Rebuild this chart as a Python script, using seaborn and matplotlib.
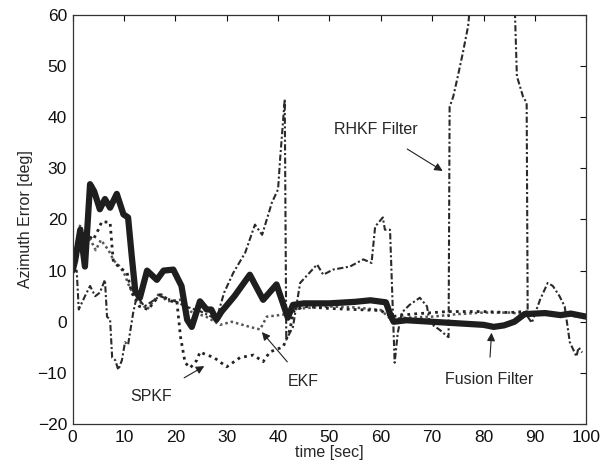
import numpy as np
import pandas as pd
import seaborn as sns
import matplotlib
matplotlib.use("Agg")
import matplotlib.pyplot as plt

# ---------------- data ----------------
fusion_t = [0, 0.5, 1.5, 2.4, 3.4, 4.2, 5.3, 6.3, 7.3, 8.6, 9.9, 10.8, 11.5, 12.2, 13.1,
            14.5, 16.4, 17.7, 19.6, 21.2, 22.3, 23.2, 24.8, 26.1, 27, 28, 29, 31.5, 34.5,
            37.1, 39.7, 41.9, 42.9, 45, 50, 55, 58, 61, 62, 62.5, 65, 70, 75, 80, 82, 84,
            86, 88, 92, 95, 97, 100]
fusion_v = [10, 12, 18, 10.8, 26.9, 25.5, 22, 24, 22.3, 25, 21, 20.4, 13, 6, 4.7,
            10, 8.2, 10, 10.2, 7, 0.4, -1, 4, 2.4, 2.4, 0.4, 2, 5, 9.2,
            4.3, 7.3, 0.8, 3.3, 3.6, 3.6, 3.9, 4.2, 3.8, 1, 0, 0.3, 0, -0.3, -0.6, -1, -0.7,
            0, 1.5, 1.7, 1.3, 1.6, 1]

ekf_t = [0, 1, 1.5, 2.5, 3.5, 4.5, 5.5, 7, 8, 9, 10, 11, 12, 13, 14.5, 17, 18.3, 21, 23,
         26, 28.7, 31, 34.5, 36.5, 37.8, 41, 43, 50, 55, 60, 62, 65, 70, 75, 80, 85, 88,
         92, 96, 100]
ekf_v = [10, 17, 19, 16, 16, 14, 16, 14, 12, 11, 9.6, 7, 5, 4, 2.4, 5.7, 4, 4.3, 2,
         1, -0.6, 0, -1, -1.5, 1, 1.4, 2.5, 3, 2.8, 2.3, 0.5, 0.8, 1, 1.5, 1.8, 1.8, 1.5,
         1.4, 1.2, 1]

spkf_t = [0, 1, 2, 3, 4, 5, 5.7, 7.3, 7.9, 8.9, 10.6, 11.5, 13, 14.7, 17, 19.3, 20.3, 21,
          21.9, 22.9, 24.2, 24.8, 26.1, 27.4, 30, 32.6, 35.2, 37.1, 38.4, 41, 42.3, 43,
          45, 50, 55, 60, 62, 66, 73, 76, 80, 85, 88, 92, 96, 100]
spkf_v = [10, 13, 15, 17, 16, 18, 19.6, 19.4, 12, 10.8, 9.6, 5.7, 3, 2.4, 5.3, 4, 4, -2.9,
          -8, -9, -7.5, -5.9, -6.5, -6.9, -8.8, -7, -6.5, -7.8, -5.9, -4.9, -1.6, 2,
          3, 2.6, 2.4, 2.2, 1, 1.5, 2, 2, 2, 1.8, 2, 1.5, 1.4, 1.2]

rhkf_t = [0, 0.8, 1.2, 2.4, 3.4, 4.4, 5.3, 6.3, 6.7, 7.3, 7.7, 8.3, 8.9, 9.6, 10.2, 10.8,
          11.8, 12.5, 14, 17, 20, 22, 25, 28, 29.5, 31.3, 33.6, 35.5, 36.9, 38.8, 40,
          40.4, 41.3, 41.6, 42.9, 44.3, 47.6, 48.8, 50.7, 54, 56.6, 58.2, 58.9, 60.4, 60.8,
          61.8, 62.7, 63.3, 64.1, 65.6, 67.6, 69, 69.5, 71.5, 73, 73.2, 73.4, 74.1, 75, 76,
          77, 77.3, 80, 84, 86.1, 86.5, 87.7, 88.4, 88.6, 89.4, 91, 92.5, 93.5, 94.8, 95.8,
          96.8, 98.1, 98.5, 99.2]
rhkf_v = [10, 10, 2.4, 5, 7, 5, 5.7, 8.2, 1, 0.4, -7, -7.5, -9.4, -7.5, -4, -4.5,
          1.8, 5, 3, 5, 4, 3, 2, 0.5, 5.7, 9.6, 13.5, 19, 17, 23.3, 25.9,
          31.8, 43.5, -3.5, -1, 7.6, 11.2, 9.2, 10.2, 10.8, 12.2, 11.5, 18.6, 20.4, 18,
          18, -8, -2.2, 1.8, 3.3, 4.7, 3, -0.2, -1.6, -2.9, -3, 42, 44, 48, 52.7,
          57.8, 61, 68, 68, 61, 48, 44, 42.8, 1, -0.2, 4.3, 7.6, 7, 5, 3,
          -4, -6.8, -5, -6]

x_ticks = list(range(0, 101, 10))
y_ticks = list(range(-20, 61, 10))

# ---------------- plotting ----------------
sns.set_style("white")
plt.rcParams['font.family'] = ['Liberation Sans', 'DejaVu Sans']

fig = plt.figure(figsize=(6.05, 4.65), dpi=100)
ax = fig.add_axes([0.12, 0.088, 0.849, 0.880])

sns.lineplot(x=ekf_t, y=ekf_v, ax=ax, color="#555555", lw=1.8,
             linestyle=(0, (1, 1.2)), estimator=None, sort=False)
sns.lineplot(x=spkf_t, y=spkf_v, ax=ax, color="#222222", lw=2.0,
             linestyle=(0, (1, 1.5)), estimator=None, sort=False)
sns.lineplot(x=rhkf_t, y=rhkf_v, ax=ax, color="#2a2a2a", lw=1.5,
             linestyle=(0, (3, 1.2, 1, 1.2)), estimator=None, sort=False)
sns.lineplot(x=fusion_t, y=fusion_v, ax=ax, color="#1e1e1e", lw=4.5,
             estimator=None, sort=False)

ax.set_xlim(0, 100)
ax.set_ylim(-20, 60)
ax.set_xticks(x_ticks)
ax.set_yticks(y_ticks)
ax.tick_params(direction="in", top=True, right=True, length=4, width=0.8,
               labelsize=12.5, colors="#111111", pad=4)
for s in ax.spines.values():
    s.set_color("#333333")
    s.set_linewidth(0.9)

ax.set_xlabel("time [sec]", fontsize=11.5, labelpad=0)
ax.set_ylabel("Azimuth Error [deg]", fontsize=11.5, labelpad=3)

arrow = dict(arrowstyle="-|>", color="#222222", lw=0.8, mutation_scale=12)
ax.annotate("RHKF Filter", xy=(72.5, 29.2), xytext=(59, 37.6), fontsize=11.5,
            ha="center", va="center", arrowprops=dict(arrow, shrinkA=12))
ax.annotate("EKF", xy=(36.5, -1.6), xytext=(45, -11.6), fontsize=11.5,
            ha="center", va="center", arrowprops=dict(arrow, shrinkA=8))
ax.annotate("SPKF", xy=(26.1, -8.4), xytext=(15.3, -14.7), fontsize=11.5,
            ha="center", va="center", arrowprops=dict(arrow, shrinkA=12))
ax.annotate("Fusion Filter", xy=(81.6, -1.6), xytext=(81, -11.2), fontsize=11.5,
            ha="center", va="center", arrowprops=dict(arrow, shrinkA=8))

fig.savefig("out.png", dpi=100)
